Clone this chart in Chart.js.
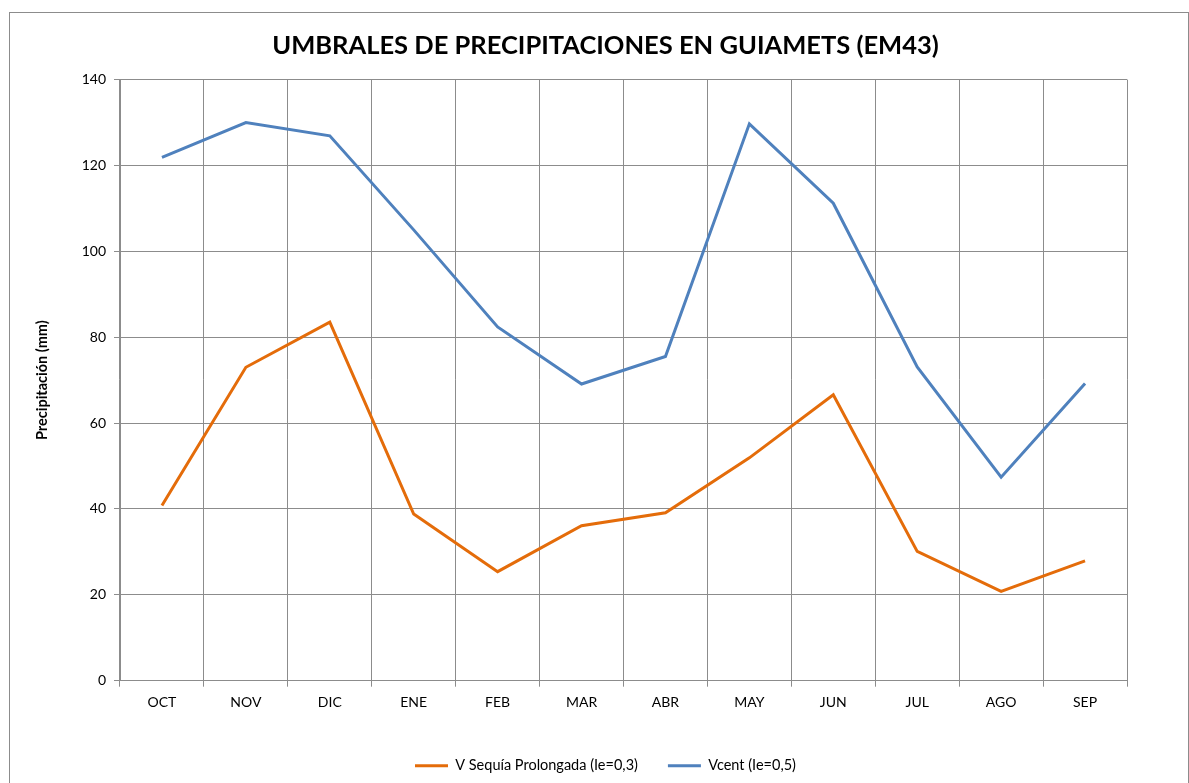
<!DOCTYPE html>
<html>
<head>
<meta charset="utf-8">
<script src="https://cdn.jsdelivr.net/npm/chart.js@4"></script>
<style>
  html, body { margin: 0; padding: 0; background: #fff; overflow: hidden; }
  #frame { position: absolute; left: 9px; top: 12px; width: 1180px; height: 800px; border: 1px solid #8c8c8c; box-sizing: border-box; }
  #wrap { position: absolute; left: 0; top: 0; width: 1189px; height: 783px; }
</style>
</head>
<body>
<div id="frame"></div>
<div id="wrap"><canvas id="chart" width="1189" height="783"></canvas></div>
<script>
const months = ['OCT', 'NOV', 'DIC', 'ENE', 'FEB', 'MAR', 'ABR', 'MAY', 'JUN', 'JUL', 'AGO', 'SEP'];
const sequiaProlongada = [40.8, 73, 83.5, 38.8, 25.4, 36.1, 39.1, 51.9, 66.6, 30.1, 20.8, 27.9];
const vcent = [121.9, 130, 126.9, 105, 82.4, 69.1, 75.5, 129.7, 111.2, 73.1, 47.4, 69.2];

const gridColor = '#8c8c8c';
const fontFamily = 'Lato, "Open Sans", sans-serif';

document.addEventListener('DOMContentLoaded', () => {
  const ctx = document.getElementById('chart').getContext('2d');
  new Chart(ctx, {
    type: 'line',
    data: {
      labels: months,
      datasets: [{
        label: 'V Sequía Prolongada (Ie=0,3)',
        data: sequiaProlongada,
        borderColor: '#e46c0a',
        backgroundColor: '#e46c0a',
        borderWidth: 3,
        pointRadius: 0,
        tension: 0
      }, {
        label: 'Vcent (Ie=0,5)',
        data: vcent,
        borderColor: '#4f81bd',
        backgroundColor: '#4f81bd',
        borderWidth: 3,
        pointRadius: 0,
        tension: 0
      }]
    },
    options: {
      responsive: false,
      animation: false,
      layout: { padding: { left: 30, right: 8, top: 18, bottom: 0 } },
      scales: {
        x: {
          offset: true,
          grid: { color: gridColor, offset: true, tickLength: 6, drawTicks: true },
          border: { color: gridColor },
          ticks: { color: '#000', font: { family: fontFamily, size: 14 }, padding: 7, maxRotation: 0 },
          afterFit: (scale) => { scale.height += 11; }
        },
        y: {
          min: 0,
          max: 140,
          ticks: { stepSize: 20, color: '#000', font: { family: fontFamily, size: 14 }, padding: 8 },
          grid: { color: gridColor, tickLength: 6 },
          border: { color: gridColor },
          title: {
            display: true,
            text: 'Precipitación (mm)',
            color: '#000',
            font: { family: fontFamily, size: 14.5, weight: 'bold' },
            padding: { top: 4, bottom: 17 }
          },
          afterFit: (scale) => { scale.width = 90; }
        },
        yRight: {
          position: 'right',
          display: true,
          grid: { display: false },
          border: { display: false },
          ticks: { display: false },
          afterFit: (scale) => { scale.width = 54; }
        }
      },
      plugins: {
        title: {
          display: true,
          text: 'UMBRALES DE PRECIPITACIONES EN GUIAMETS (EM43)',
          color: '#000',
          font: { family: fontFamily, size: 25.5, weight: 'bold' },
          padding: { top: 12, bottom: 19 }
        },
        legend: {
          position: 'bottom',
          labels: {
            usePointStyle: true,
            pointStyle: 'line',
            pointStyleWidth: 33,
            color: '#000',
            font: { family: fontFamily, size: 14.5 },
            padding: 30
          }
        },
        tooltip: { enabled: false }
      }
    }
  });
});
</script>
</body>
</html>
